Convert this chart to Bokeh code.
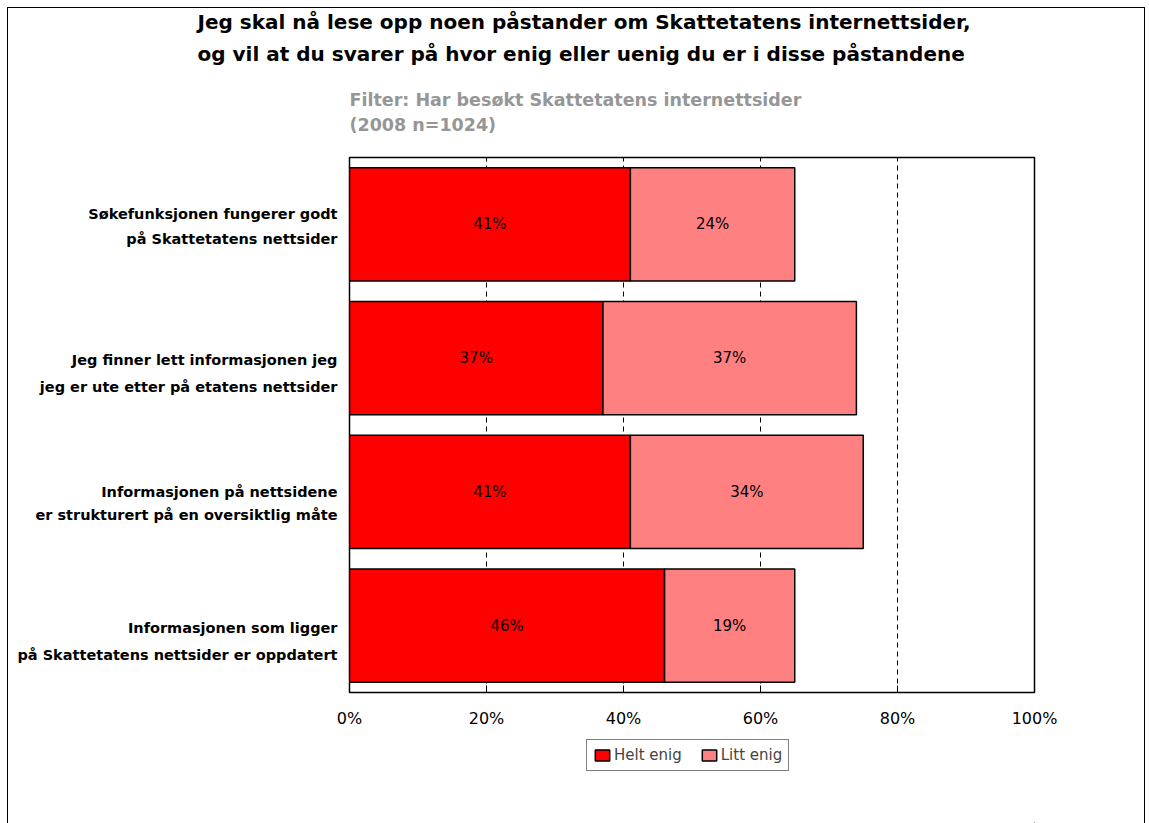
from bokeh.plotting import figure
from bokeh.layouts import column
from bokeh.models import (ColumnDataSource, FixedTicker, Legend, LegendItem, Title)
from bokeh.core.properties import value
from bokeh.embed import file_html
from bokeh.resources import INLINE

# ---- data ----
statements = [
    "Søkefunksjonen fungerer godt\npå Skattetatens nettsider",
    "Jeg finner lett informasjonen jeg\njeg er ute etter på etatens nettsider",
    "Informasjonen på nettsidene\ner strukturert på en oversiktlig måte",
    "Informasjonen som ligger\npå Skattetatens nettsider er oppdatert",
]
helt_enig = [41, 37, 41, 46]
litt_enig = [24, 37, 34, 19]
series_names = ["Helt enig", "Litt enig"]
tick_values = [0, 20, 40, 60, 80, 100]
tick_labels = ["0%", "20%", "40%", "60%", "80%", "100%"]
title_lines = [
    "Jeg skal nå lese opp noen påstander om Skattetatens internettsider,",
    "og vil at du svarer på hvor enig eller uenig du er i disse påstandene",
]
subtitle_lines = ["Filter: Har besøkt Skattetatens internettsider", "(2008 n=1024)"]

# ---- styling / layout ----
FONT = "DejaVu Sans"
RED = "#FF0000"
PINK = "#FF8080"
CAT_PX = 133.75                      # pixel height of one category band
line_px_off = [(-10, 15), (2, 29), (0, 23), (2, 29)]   # line offsets (px, down)
colors = [RED, PINK]

n = len(statements)
ypos = [n - 1 - i for i in range(n)]  # first statement on top

p = figure(frame_width=685, frame_height=535, output_backend="svg",
           toolbar_location=None, title=None, x_range=(0, 100),
           y_range=(-0.5, n - 0.5),
           min_border_left=341, min_border_right=110, min_border_top=148,
           min_border_bottom=40)
p.outline_line_color = "black"
p.outline_line_width = 1.5
p.background_fill_color = "white"
p.border_fill_color = "white"

# grid
p.ygrid.visible = False
p.xgrid.ticker = FixedTicker(ticks=tick_values[1:-1])
p.xgrid.grid_line_color = "black"
p.xgrid.grid_line_dash = "5 4"
p.xgrid.grid_line_width = 1

# x axis
ax = p.xaxis[0]
ax.ticker = FixedTicker(ticks=tick_values)
ax.major_label_overrides = {v: t for v, t in zip(tick_values, tick_labels)}
ax.axis_line_color = None
ax.major_tick_in = 7
ax.major_tick_out = 0
ax.minor_tick_line_color = None
ax.major_tick_line_color = "black"
ax.major_label_standoff = 16
ax.major_label_text_font = FONT
ax.major_label_text_font_size = "16px"
ax.major_label_text_color = "black"

# y axis: one tick per text line of each statement
yticks, ylabels = [], {}
for yp, s, offs in zip(ypos, statements, line_px_off):
    for line, off in zip(s.split("\n"), offs):
        t = round(yp - off / CAT_PX, 4)
        yticks.append(t)
        ylabels[t] = line
ay = p.yaxis[0]
ay.ticker = FixedTicker(ticks=yticks)
ay.major_label_overrides = ylabels
ay.axis_line_color = None
ay.major_tick_line_color = None
ay.minor_tick_line_color = None
ay.major_label_standoff = 6
ay.major_label_text_font = FONT
ay.major_label_text_font_size = "14.5px"
ay.major_label_text_font_style = "bold"
ay.major_label_text_color = "black"

# bars
src = ColumnDataSource(dict(
    y=ypos,
    h0=[0] * n,
    h1=helt_enig,
    l1=[a + b for a, b in zip(helt_enig, litt_enig)],
    hmid=[a / 2 for a in helt_enig],
    lmid=[a + b / 2 for a, b in zip(helt_enig, litt_enig)],
    htxt=[f"{v}%" for v in helt_enig],
    ltxt=[f"{v}%" for v in litt_enig],
))
p.hbar(y="y", left="h0", right="h1", height=0.845, source=src,
       fill_color=colors[0], line_color="black", line_width=1.5)
p.hbar(y="y", left="h1", right="l1", height=0.845, source=src,
       fill_color=colors[1], line_color="black", line_width=1.5)

for xcol, tcol in (("hmid", "htxt"), ("lmid", "ltxt")):
    p.text(x=xcol, y="y", text=tcol, source=src, text_align="center",
           text_baseline="middle", text_font=value(FONT),
           text_font_size="15px", text_color="black")

# titles (added from the frame outward)
p.add_layout(Title(text="\n".join(subtitle_lines), align="left", text_font=FONT,
                   text_font_size="17.5px", text_font_style="bold",
                   vertical_align="top", text_line_height=1.23,
                   text_color="#969696", standoff=41), "above")
p.add_layout(Title(text="\n".join(title_lines), align="left", offset=-152,
                   text_font=FONT, text_font_size="20px", text_font_style="bold",
                   vertical_align="top", text_line_height=1.35,
                   text_color="black", standoff=3), "above")

# legend strip below the chart (its own small canvas; frame aligned with chart)
leg = figure(width=1136, height=91, output_backend="svg", toolbar_location=None,
             x_range=(-2, -1), y_range=(100, 101), x_axis_location=None,
             y_axis_location=None, min_border=0)
leg.outline_line_color = None
leg.grid.visible = False
leg.background_fill_color = "white"
leg.border_fill_color = "white"
sw = [leg.hbar(y="y", left=lcol, right=rcol, height=0.845, source=src,
               fill_color=c, line_color="black", line_width=1.5)
      for c, lcol, rcol in zip(colors, ("h0", "h1"), ("h1", "l1"))]
legend = Legend(items=[LegendItem(label=nm, renderers=[r])
                       for nm, r in zip(series_names, sw)],
                orientation="horizontal", location=(237, 52),
                glyph_width=18, glyph_height=14, label_standoff=3, spacing=18,
                padding=6, margin=0, border_line_color="black",
                border_line_width=1.5, label_text_font=FONT,
                label_text_font_size="15px", label_height=14)
leg.add_layout(legend, "center")

page = column(p, leg, spacing=0,
              styles={"border-left": "1.5px solid black",
                      "border-top": "1.5px solid black",
                      "border-right": "1.5px solid black",
                      "margin-left": "7px", "margin-top": "7px"})

open("out.html", "w").write(file_html(page, INLINE))
